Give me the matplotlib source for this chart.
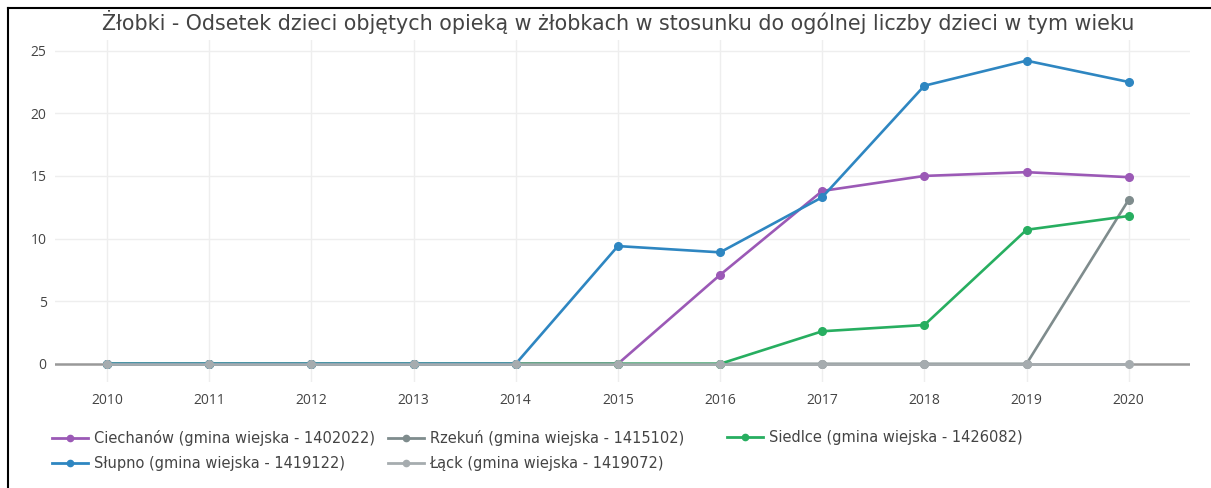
import matplotlib.pyplot as plt
from matplotlib.lines import Line2D

years = [2010, 2011, 2012, 2013, 2014, 2015, 2016, 2017, 2018, 2019, 2020]
ciechanow = [0, 0, 0, 0, 0, 0, 7.1, 13.8, 15.0, 15.3, 14.9]
slupno = [0, 0, 0, 0, 0, 9.4, 8.9, 13.3, 22.2, 24.2, 22.5]
rzekun = [0, 0, 0, 0, 0, 0, 0, 0, 0, 0, 13.1]
siedlce = [0, 0, 0, 0, 0, 0, 0, 2.6, 3.1, 10.7, 11.8]
lack = [0, 0, 0, 0, 0, 0, 0, 0, 0, 0, 0]

series = [
    ("Ciechanów (gmina wiejska - 1402022)", ciechanow, "#9b59b6"),
    ("Słupno (gmina wiejska - 1419122)", slupno, "#2e86c1"),
    ("Rzekuń (gmina wiejska - 1415102)", rzekun, "#7f8c8d"),
    ("Łąck (gmina wiejska - 1419072)", lack, "#a6acaf"),
    ("Siedlce (gmina wiejska - 1426082)", siedlce, "#27ae60"),
]
draw_order = [0, 2, 4, 1, 3]
legend_cols = [[0, 1], [2, 3], [4]]
legend_x = [52, 388, 727]

title = "Żłobki - Odsetek dzieci objętych opieką w żłobkach w stosunku do ogólnej liczby dzieci w tym wieku"

plt.rcParams['font.family'] = ['DejaVu Sans']

fig = plt.figure(figsize=(12.11, 4.88), dpi=100)
ax = fig.add_axes([55/1211, 1-382/488, (1190-55)/1211, (382-40)/488])

# zero line
ax.axhline(0, color="#999999", lw=1.8, zorder=1)

for i in draw_order:
    name, vals, col = series[i]
    ax.plot(years, vals, color=col, lw=1.9, marker="o", ms=5.5, zorder=3, clip_on=False)

ax.set_xlim(2009.49, 2020.6)
ax.set_ylim(-1.45, 25.85)
ax.set_xticks(years)
ax.set_yticks([0, 5, 10, 15, 20, 25])
ax.grid(True, color="#eeeeee", lw=1)
ax.set_axisbelow(True)
for s in ax.spines.values():
    s.set_visible(False)
ax.tick_params(length=0, labelsize=10, colors="#444444", pad=6)
ax.tick_params(axis="x", pad=8)
for lab in ax.get_xticklabels() + ax.get_yticklabels():
    lab.set_fontfamily("Open Sans")

fig.text(0.5 * (100 + 1137) / 1211, 1 - 22/488, title, ha="center", va="center",
         fontsize=14.9, color="#444444")

# legend: three separate columns, plotly-like spacing
for cols, lx in zip(legend_cols, legend_x):
    hs = [Line2D([], [], color=series[i][2], lw=2, marker="o", ms=4.5) for i in cols]
    ls = [series[i][0] for i in cols]
    leg = fig.legend(hs, ls, loc="upper left", bbox_to_anchor=(lx/1211, 1-430/488),
                     frameon=False, fontsize=10.5, handlelength=2.45, borderpad=0,
                     labelspacing=0.7, handletextpad=0.4, borderaxespad=0)
    for t in leg.get_texts():
        t.set_color("#444444")

# frame of the screenshot
fig.add_artist(Line2D([8/1211, 8/1211], [0, 1-8/488], transform=fig.transFigure, color="black", lw=1.5))
fig.add_artist(Line2D([8/1211, 1], [1-8/488, 1-8/488], transform=fig.transFigure, color="black", lw=1.5))

fig.savefig("out.png", dpi=100)
